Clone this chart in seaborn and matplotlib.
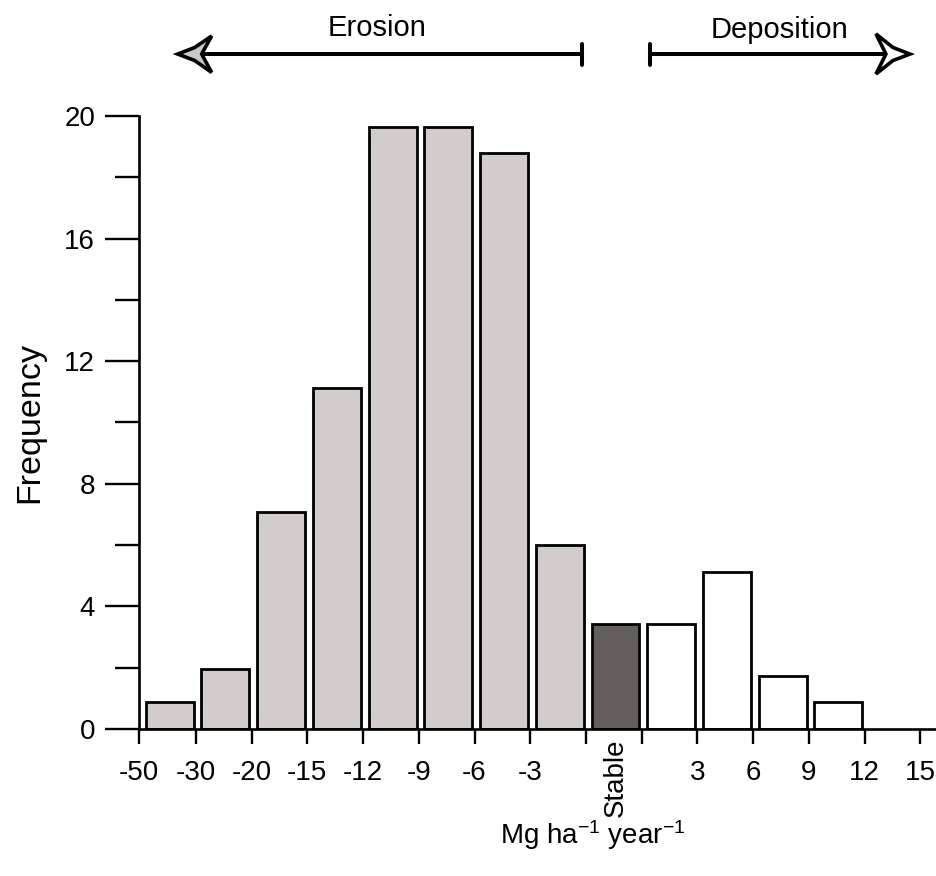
import numpy as np
import pandas as pd
import matplotlib
matplotlib.use("Agg")
import matplotlib.pyplot as plt
import seaborn as sns
from matplotlib.patches import Polygon
from matplotlib.transforms import blended_transform_factory

# === Data ===
bins = ['-50 to -30', '-30 to -20', '-20 to -15', '-15 to -12', '-12 to -9',
        '-9 to -6', '-6 to -3', '-3 to 0', 'Stable', '0 to 3', '3 to 6',
        '6 to 9', '9 to 12']
freq = [0.88, 1.96, 7.08, 11.13, 19.64, 19.64, 18.8, 6.0, 3.44, 3.44, 5.12, 1.73, 0.88]
group = ['Erosion'] * 8 + ['Stable'] + ['Deposition'] * 4
tick_labels = ['-50', '-30', '-20', '-15', '-12', '-9', '-6', '-3', '', '',
               '3', '6', '9', '12', '15']

colors = {'Erosion': '#d3cdc9', 'Stable': '#655f5b', 'Deposition': '#ffffff'}
df = pd.DataFrame({'bin': bins, 'freq': freq, 'group': group})

# === Style ===
sns.set_style('ticks')
plt.rcParams['font.family'] = ['Liberation Sans', 'DejaVu Sans']
plt.rcParams['mathtext.default'] = 'regular'
for key in ['text.color', 'axes.labelcolor', 'xtick.color', 'ytick.color', 'axes.edgecolor']:
    plt.rcParams[key] = 'black'

fig = plt.figure(figsize=(9.36, 8.76), dpi=100)
ax = fig.add_axes([0.1485, 0.1678, 0.8515, 0.6998])

sns.barplot(data=df, x='bin', y='freq', hue='bin', order=bins,
            palette=[colors[g] for g in group], legend=False,
            width=0.86, edgecolor='black', linewidth=2.0, ax=ax)

# === Axes ===
edges = np.arange(len(tick_labels)) - 0.53
edges[0] = -0.55
ax.set_xlim(-0.55, 13.75)
ax.set_ylim(0, 20)
ax.set_xticks(edges)
ax.set_xticklabels(tick_labels, fontsize=20)
ax.set_yticks(np.arange(0, 21, 4))
ax.set_yticks(np.arange(2, 20, 4), minor=True)
ax.tick_params(axis='y', which='major', labelsize=20, length=24.5, width=1.7, pad=7)
ax.tick_params(axis='y', which='minor', length=17.5, width=1.7)
ax.tick_params(axis='x', which='major', length=11, width=1.7, pad=11)
for s in ['left', 'bottom']:
    ax.spines[s].set_linewidth(1.9)
sns.despine(ax=ax)

ax.set_ylabel('Frequency', fontsize=24.5)
ax.yaxis.set_label_coords(-0.117, 0.5)
ax.set_xlabel('Mg ha$^{-1}$ year$^{-1}$', fontsize=20)
ax.xaxis.set_label_coords(0.569, -0.145)

# rotated "Stable" label under its bar
trans = blended_transform_factory(ax.transData, ax.transAxes)
ax.text(bins.index('Stable'), -0.016, 'Stable', rotation=90, ha='center', va='top',
        fontsize=20, transform=trans)

# === Erosion / Deposition arrows ===
lw = 2.9
y0 = 1.101
ax.plot([0.574, 7.395], [y0, y0], color='black', lw=lw, transform=trans,
        clip_on=False, solid_capstyle='butt')
ax.plot([7.395, 7.395], [1.083, 1.118], color='black', lw=lw, transform=trans, clip_on=False)
ax.plot([8.616, 12.852], [y0, y0], color='black', lw=lw, transform=trans,
        clip_on=False, solid_capstyle='butt')
ax.plot([8.616, 8.616], [1.083, 1.118], color='black', lw=lw, transform=trans, clip_on=False)

left_head = Polygon([[0.144, y0], [0.449, 1.1117], [0.754, 1.1305], [0.574, y0],
                     [0.754, 1.0710], [0.449, 1.0905]],
                    closed=True, facecolor='#c8c8c8', edgecolor='black', lw=2.6,
                    transform=trans, clip_on=False, joinstyle='miter')
right_head = Polygon([[13.283, y0], [12.978, 1.1117], [12.673, 1.1338], [12.852, y0],
                      [12.673, 1.0685], [12.978, 1.0905]],
                     closed=True, facecolor='white', edgecolor='black', lw=2.6,
                     transform=trans, clip_on=False, joinstyle='miter')
ax.add_patch(left_head)
ax.add_patch(right_head)

ax.text(3.73, 1.1436, 'Erosion', ha='center', va='center', fontsize=21, transform=trans)
ax.text(10.95, 1.140, 'Deposition', ha='center', va='center', fontsize=21, transform=trans)

fig.savefig('out.png', dpi=100, facecolor='white')
